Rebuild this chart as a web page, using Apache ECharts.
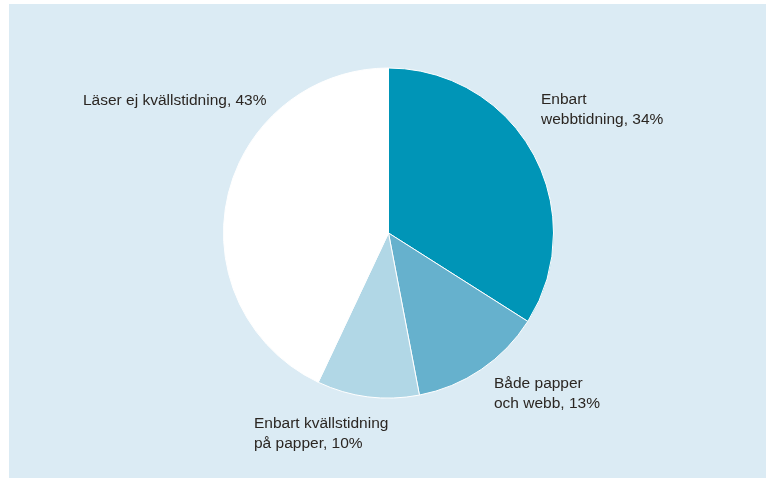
<!DOCTYPE html>
<html><head><meta charset="utf-8">
<script src="https://cdn.jsdelivr.net/npm/echarts@6/dist/echarts.min.js"></script>
<style>html,body{margin:0;padding:0;background:#fff}#c{width:766px;height:478px}</style>
</head><body><div id="c"></div>
<script>
const categories = ["Enbart\nwebbtidning", "Både papper\noch webb", "Enbart kvällstidning\npå papper", "Läser ej kvällstidning"];
const values = [34, 13, 10, 43];
const colors = ["#0095b7", "#66b1cd", "#b1d7e6", "#ffffff"];
const labelPos = [[541, 90], [494, 374], [254, 414], [83, 91]];

const chart = echarts.init(document.getElementById('c'), null, {renderer: 'canvas'});
chart.setOption({
  animation: false,
  backgroundColor: '#ffffff',
  graphic: [{type: 'rect', z: -10, shape: {x: 9, y: 4, width: 757, height: 474}, style: {fill: '#dbebf4'}}],
  series: [{
    type: 'pie',
    center: [388.5, 233],
    radius: [0, 165],
    startAngle: 90,
    clockwise: true,
    data: categories.map((c, i) => ({name: c, value: values[i], itemStyle: {color: colors[i]}})),
    itemStyle: {borderColor: '#ffffff', borderWidth: 1},
    label: {
      show: true,
      formatter: p => p.name + ', ' + p.value + '%',
      fontFamily: 'Liberation Sans, Arial, sans-serif',
      fontSize: 15.5,
      lineHeight: 20,
      color: '#2b2622',
      align: 'left',
      overflow: 'none',
      width: 300
    },
    labelLine: {show: false},
    labelLayout: p => ({x: labelPos[p.dataIndex][0], y: labelPos[p.dataIndex][1], align: 'left', verticalAlign: 'top', hideOverlap: false}),
    emphasis: {disabled: true}
  }]
});
</script></body></html>
